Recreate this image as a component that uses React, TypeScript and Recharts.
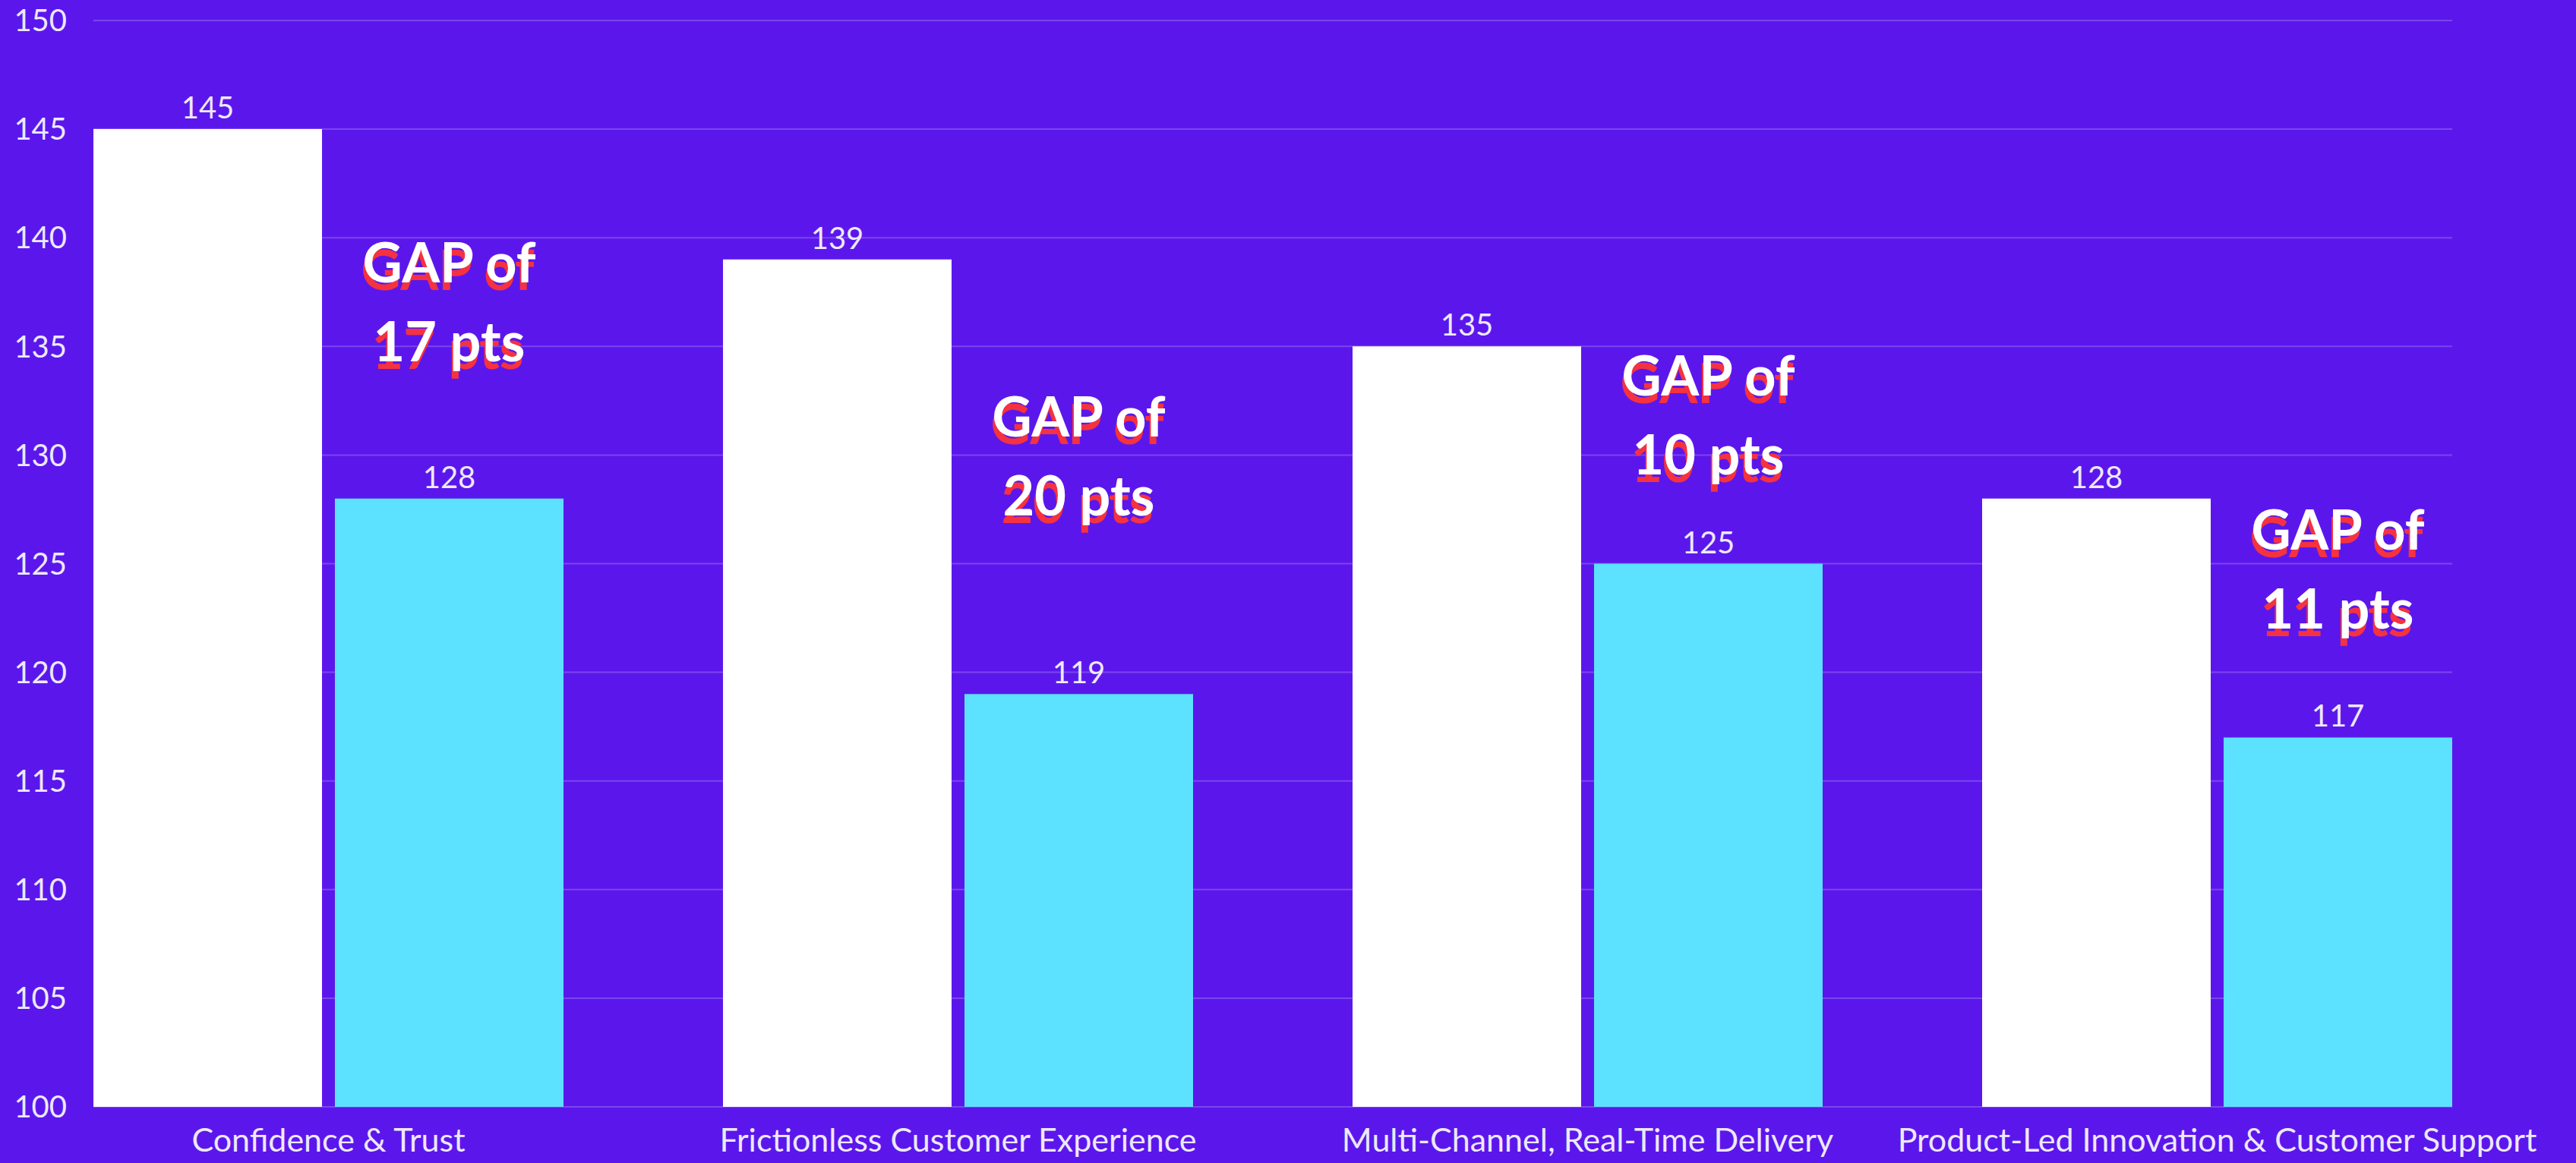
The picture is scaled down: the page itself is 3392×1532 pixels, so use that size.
import React from "react";
import { BarChart, Bar, XAxis, YAxis, CartesianGrid, LabelList } from "recharts";

const categories = [
  "Confidence & Trust",
  "Frictionless Customer Experience",
  "Multi-Channel, Real-Time Delivery",
  "Product-Led Innovation & Customer Support",
];
const leaderScores = [145, 139, 135, 128];
const otherScores = [128, 119, 125, 117];
const gapPoints = [17, 20, 10, 11];
const gapLabelLevel = [137.0, 129.9, 131.8, 124.7];
const yTicks = [100, 105, 110, 115, 120, 125, 130, 135, 140, 145, 150];

const data = categories.map((name, i) => ({
  name,
  leader: leaderScores[i],
  other: otherScores[i],
  gap: gapPoints[i],
  level: gapLabelLevel[i],
}));

const BG = "#5B17EB";
const CYAN = "#5CE1FE";
const TEXT = "#EEE8FF";
const RED = "#F5333F";
const FONT = "Lato, 'Open Sans', sans-serif";

const GapLabel = (props: any) => {
  const { x, y, width, height, index } = props;
  const v = otherScores[index];
  const ppu = height / (v - 100);
  const levelY = y + height - (gapLabelLevel[index] - 100) * ppu;
  const cx = x + width / 2;
  const fid = `gapShadow${index}`;
  return (
    <g>
      <defs>
        <filter id={fid} x="-20%" y="-20%" width="140%" height="160%">
          <feDropShadow dx={-2} dy={10} stdDeviation={0} floodColor={RED} floodOpacity={1} />
        </filter>
      </defs>
      <text
        x={cx}
        y={levelY - 52 + 25}
        textAnchor="middle"
        fill="#FFFFFF"
        fontSize={72}
        fontWeight={700}
        fontFamily={FONT}
        filter={`url(#${fid})`}
      >
        <tspan x={cx}>GAP of</tspan>
        <tspan x={cx} dy={104}>{`${gapPoints[index]} pts`}</tspan>
      </text>
    </g>
  );
};

export default function App() {
  return (
    <div
      style={{
        position: "absolute",
        left: 0,
        top: 0,
        width: 3392,
        height: 1532,
        background: BG,
      }}
    >
      <BarChart
        width={3392}
        height={1532}
        data={data}
        margin={{ top: 27, right: 163, bottom: 0, left: 0 }}
        barCategoryGap={105}
        barGap={17}
      >
        <CartesianGrid
          vertical={false}
          stroke="rgba(255,255,255,0.2)"
          strokeWidth={2}
        />
        <XAxis
          dataKey="name"
          axisLine={false}
          tickLine={false}
          tickSize={0}
          tickMargin={28}
          height={74}
          padding={{ left: -105, right: -105 }}
          interval={0}
          tick={{ fill: TEXT, fontSize: 43, fontFamily: FONT }}
        />
        <YAxis
          domain={[100, 150]}
          ticks={yTicks}
          allowDataOverflow
          axisLine={false}
          tickLine={false}
          tickSize={0}
          tickMargin={35}
          width={123}
          tick={{ fill: TEXT, fontSize: 40, fontFamily: FONT }}
        />
        <Bar dataKey="leader" fill="#FFFFFF" isAnimationActive={false}>
          <LabelList
            dataKey="leader"
            position="top"
            offset={14}
            fill={TEXT}
            fontSize={40}
            fontFamily={FONT}
          />
        </Bar>
        <Bar dataKey="other" fill={CYAN} isAnimationActive={false}>
          <LabelList
            dataKey="other"
            position="top"
            offset={14}
            fill={TEXT}
            fontSize={40}
            fontFamily={FONT}
          />
          <LabelList dataKey="gap" content={<GapLabel />} />
        </Bar>
      </BarChart>
    </div>
  );
}
